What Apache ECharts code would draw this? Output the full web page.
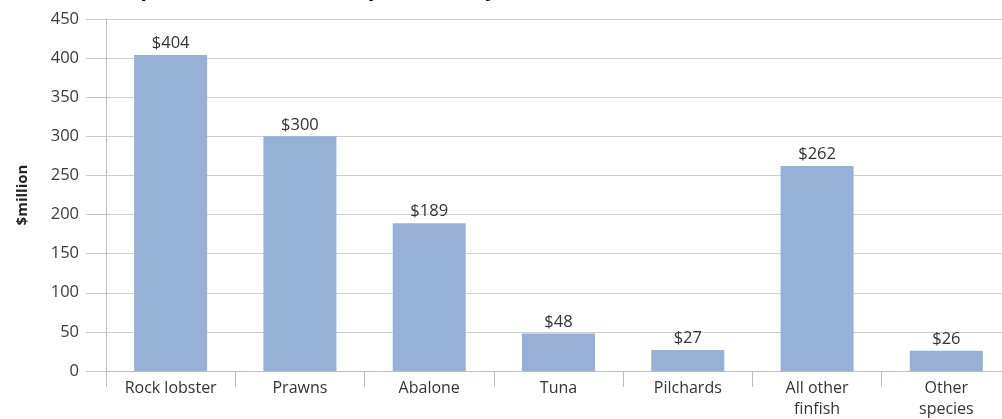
<!DOCTYPE html>
<html>
<head>
<meta charset="utf-8">
<script src="https://cdn.jsdelivr.net/npm/echarts@6/dist/echarts.min.js"></script>
<style>
  html, body { margin: 0; padding: 0; background: #ffffff; }
  #chart { width: 1002px; height: 419px; }
</style>
</head>
<body>
<div id="chart"></div>
<script>
// Value by species group, $million
const categories = ['Rock lobster', 'Prawns', 'Abalone', 'Tuna', 'Pilchards', 'All other\nfinfish', 'Other\nspecies'];
const values = [404, 300, 189, 48, 27, 262, 26];
const yTicks = [0, 50, 100, 150, 200, 250, 300, 350, 400, 450];

const chart = echarts.init(document.getElementById('chart'), null, { renderer: 'canvas' });

const textFont = '"Open Sans", "Noto Sans", sans-serif';

chart.setOption({
  animation: false,
  backgroundColor: '#ffffff',
  title: {
    text: 'Composition of the main products by value, 2009–10',
    left: 86,
    top: -26,
    textStyle: { fontFamily: textFont, fontWeight: 'bold', fontSize: 22, color: '#000000' }
  },
  // plot area runs slightly past the right edge of the canvas
  grid: { left: 106, width: 905, top: 19, bottom: 48, outerBoundsMode: 'none', containLabel: false },
  xAxis: {
    type: 'category',
    data: categories,
    axisLine: { show: true, lineStyle: { color: '#bdbdbd', width: 1 } },
    axisTick: { show: true, length: 16, alignWithLabel: false, lineStyle: { color: '#bdbdbd' } },
    axisLabel: {
      interval: 0,
      margin: 7,
      fontFamily: textFont,
      fontSize: 16,
      lineHeight: 21,
      color: '#333333'
    }
  },
  yAxis: {
    type: 'value',
    min: yTicks[0],
    max: yTicks[yTicks.length - 1],
    interval: 50,
    name: '$million',
    nameLocation: 'middle',
    nameRotate: 90,
    nameGap: 76,
    nameTextStyle: { fontFamily: textFont, fontWeight: 'bold', fontSize: 15, color: '#222222' },
    axisLine: { show: true, lineStyle: { color: '#bdbdbd', width: 1 } },
    axisTick: { show: true, length: 20, lineStyle: { color: '#c8c8c8' } },
    axisLabel: { margin: 27, fontFamily: textFont, fontSize: 16.5, color: '#3a3a3a' },
    splitLine: { show: true, lineStyle: { color: '#cfcfcf', width: 1 } }
  },
  series: [{
    type: 'bar',
    data: values,
    barWidth: 73,
    itemStyle: { color: '#97b0d6' },
    label: {
      show: true,
      position: 'top',
      distance: 3,
      formatter: p => '$' + p.value,
      fontFamily: textFont,
      fontSize: 16.5,
      color: '#333333'
    }
  }]
});
</script>
</body>
</html>
